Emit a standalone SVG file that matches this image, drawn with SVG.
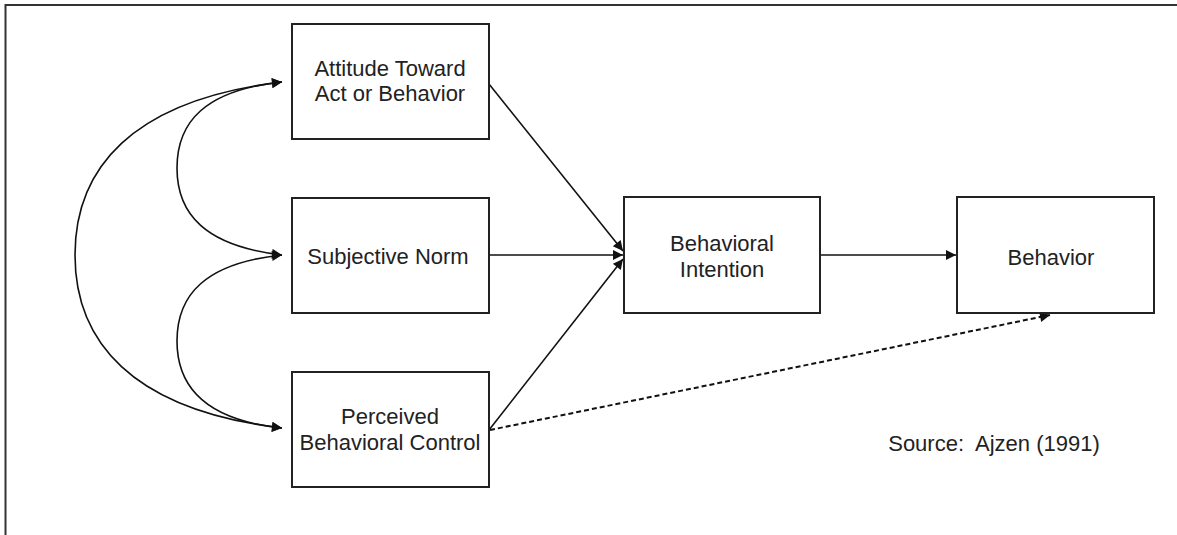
<svg xmlns="http://www.w3.org/2000/svg" width="1177" height="535" viewBox="0 0 1177 535">
<defs>
<style>
.box{fill:#fff;stroke:#222;stroke-width:2}
.lbl{font-family:"Liberation Sans",Arial,sans-serif;font-size:22px;fill:#222;text-anchor:middle;dominant-baseline:central}
.ln{fill:none;stroke:#111;stroke-width:1.6}
.dash{fill:none;stroke:#111;stroke-width:2;stroke-dasharray:5 3}
</style>
<marker id="ah" viewBox="0 0 10 10" refX="10" refY="5" markerWidth="12" markerHeight="10" markerUnits="userSpaceOnUse" orient="auto-start-reverse">
<path d="M0,0 L10,5 L0,10 z" fill="#111"/>
</marker>
</defs>
<rect x="0" y="0" width="1177" height="535" fill="#fff"/>
<path d="M5.5,535 V5 H1177" fill="none" stroke="#333" stroke-width="2"/>
<g id="connectors">
<path class="ln" d="M282,82 C205,90 177,122 177,168 C177,214 205,246 282,255" marker-start="url(#ah)" marker-end="url(#ah)"/>
<path class="ln" d="M282,255 C205,263 177,295 177,341 C177,387 205,420 282,428" marker-start="url(#ah)" marker-end="url(#ah)"/>
<path class="ln" d="M282,82 C130,100 75,170 75,255 C75,340 130,410 282,428" marker-start="url(#ah)" marker-end="url(#ah)"/>
<line class="ln" x1="489" y1="84" x2="623" y2="251" marker-end="url(#ah)"/>
<line class="ln" x1="489" y1="255" x2="623" y2="255" stroke-width="2" marker-end="url(#ah)"/>
<line class="ln" x1="489" y1="430" x2="623" y2="259" marker-end="url(#ah)"/>
<line class="ln" x1="820" y1="255" x2="956" y2="255" stroke-width="2" marker-end="url(#ah)"/>
<line class="dash" x1="490" y1="430" x2="1050" y2="315" marker-end="url(#ah)"/>
</g>
<g id="attitude">
<rect class="box" x="292" y="24" width="197" height="115"/>
<text class="lbl" x="390" y="68">Attitude Toward</text>
<text class="lbl" x="390" y="93">Act or Behavior</text>
</g>
<g id="subjective-norm">
<rect class="box" x="292" y="198" width="197" height="115"/>
<text class="lbl" x="388" y="256">Subjective Norm</text>
</g>
<g id="perceived-control">
<rect class="box" x="292" y="372" width="197" height="115"/>
<text class="lbl" x="390" y="416">Perceived</text>
<text class="lbl" x="390" y="442">Behavioral Control</text>
</g>
<g id="intention">
<rect class="box" x="624" y="197" width="196" height="116"/>
<text class="lbl" x="722" y="243">Behavioral</text>
<text class="lbl" x="722" y="269">Intention</text>
</g>
<g id="behavior">
<rect class="box" x="957" y="197" width="197" height="116"/>
<text class="lbl" x="1051" y="257">Behavior</text>
</g>
<g id="source">
<text class="lbl" x="994" y="443" xml:space="preserve">Source:  Ajzen (1991)</text>
</g>
</svg>
